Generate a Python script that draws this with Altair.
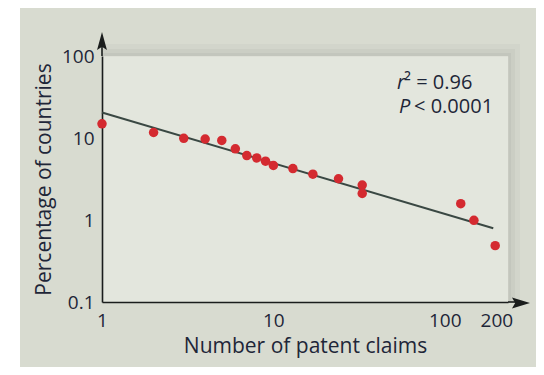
import altair as alt
import pandas as pd

# Data
claims = [1, 2, 3, 4, 5, 6, 7, 8, 9, 10, 13, 17, 24, 33, 33, 124, 148, 197]
pct = [15.2, 11.9, 10.1, 9.9, 9.5, 7.5, 6.2, 5.8, 5.3, 4.7, 4.3, 3.67, 3.23, 2.7, 2.13, 1.6, 1.0, 0.49]
fit_x = [1, 192]
fit_y = [20.9, 0.80]
x_ticks = [1, 10, 100, 200]
y_ticks = [0.1, 1, 10, 100]

W, H = 406, 246
FONT = "Open Sans"
TXT = "#1e2638"
AX = "#1a1d1c"

pts = pd.DataFrame({"claims": claims, "pct": pct})
fit = pd.DataFrame({"claims": fit_x, "pct": fit_y})
one = alt.Data(values=[{"a": 1}])

xs = alt.Scale(type="log", domain=[1, 234], nice=False)
ys = alt.Scale(type="log", domain=[0.1, 102.8], nice=False)

xax = alt.Axis(values=x_ticks, format="~g", title="Number of patent claims",
               ticks=False, grid=False, domainColor=AX, domainWidth=1.6,
               labelFont=FONT, labelFontSize=19, labelColor=TXT, labelPadding=9,
               labelOverlap=False, labelBound=False, labelFlush=False,
               titleFont=FONT, titleFontSize=21, titleFontWeight="normal",
               titleColor=TXT, titlePadding=5)
yax = alt.Axis(values=y_ticks, format="~g", title="Percentage of countries",
               ticks=False, grid=False, domainColor=AX, domainWidth=1.6,
               labelFont=FONT, labelFontSize=19, labelColor=TXT, labelPadding=8,
               labelOverlap=False, labelBound=False, labelFlush=False,
               labelBaseline="middle",
               titleFont=FONT, titleFontSize=21, titleFontWeight="normal",
               titleColor=TXT, titlePadding=7)

line = alt.Chart(fit).mark_line(color="#3a4843", strokeWidth=2).encode(
    x=alt.X("claims:Q", scale=xs, axis=xax),
    y=alt.Y("pct:Q", scale=ys, axis=yax),
)
points = alt.Chart(pts).mark_circle(size=90, color="#d42a30", opacity=1).encode(
    x=alt.X("claims:Q", scale=xs),
    y=alt.Y("pct:Q", scale=ys),
)

def txt(s, x, y, italic=False, size=20):
    return alt.Chart(one).mark_text(
        text=s, align="left", baseline="middle", font=FONT, fontSize=size,
        fontStyle="italic" if italic else "normal", color=TXT
    ).encode(x=alt.value(x), y=alt.value(y))

ann = [
    txt("r", 295, 27, italic=True),
    txt("² = 0.96", 302, 27),
    txt("P", 297, 51, italic=True),
    txt("< 0.0001", 312, 51),
]

# soft drop shadow along the panel's top and right edges
shadow = []
for d, op in [(12, 0.025), (7, 0.03), (3, 0.035)]:
    shadow.append(alt.Chart(one).mark_rect(color="black", opacity=op).encode(
        x=alt.value(W), x2=alt.value(W + d), y=alt.value(-d), y2=alt.value(H)))
    shadow.append(alt.Chart(one).mark_rect(color="black", opacity=op).encode(
        x=alt.value(0), x2=alt.value(W), y=alt.value(-d), y2=alt.value(0)))

y_ext = alt.Chart(one).mark_rule(color=AX, strokeWidth=1.6).encode(
    x=alt.value(0), y=alt.value(0), y2=alt.value(-12))
x_ext = alt.Chart(one).mark_rule(color=AX, strokeWidth=1.6).encode(
    x=alt.value(W), x2=alt.value(W + 11), y=alt.value(H))
y_head = alt.Chart(one).mark_point(
    shape="M0,-1L0.55,1L0,0.65L-0.55,1Z", filled=True, size=324, color=AX, opacity=1
).encode(x=alt.value(0), y=alt.value(-15))
x_head = alt.Chart(one).mark_point(
    shape="M1,0L-1,-0.6L-0.65,0L-1,0.6Z", filled=True, size=324, color=AX, opacity=1
).encode(x=alt.value(W + 13), y=alt.value(H + 1))

white = alt.Chart(one).mark_rect(color="white").encode(
    x=alt.value(-94), x2=alt.value(-82), y=alt.value(-48), y2=alt.value(H + 65))

chart = alt.layer(white, *shadow, line, points, *ann, y_ext, x_ext, y_head, x_head).properties(
    width=W, height=H,
    autosize=alt.AutoSizeParams(type="none"),
    padding={"left": 94, "top": 48, "right": 28, "bottom": 65},
    background="#d8dbd0",
).configure_view(fill="#e3e6dd", stroke="transparent")

chart.save("out.html", embed_options={"renderer": "svg", "actions": False})
